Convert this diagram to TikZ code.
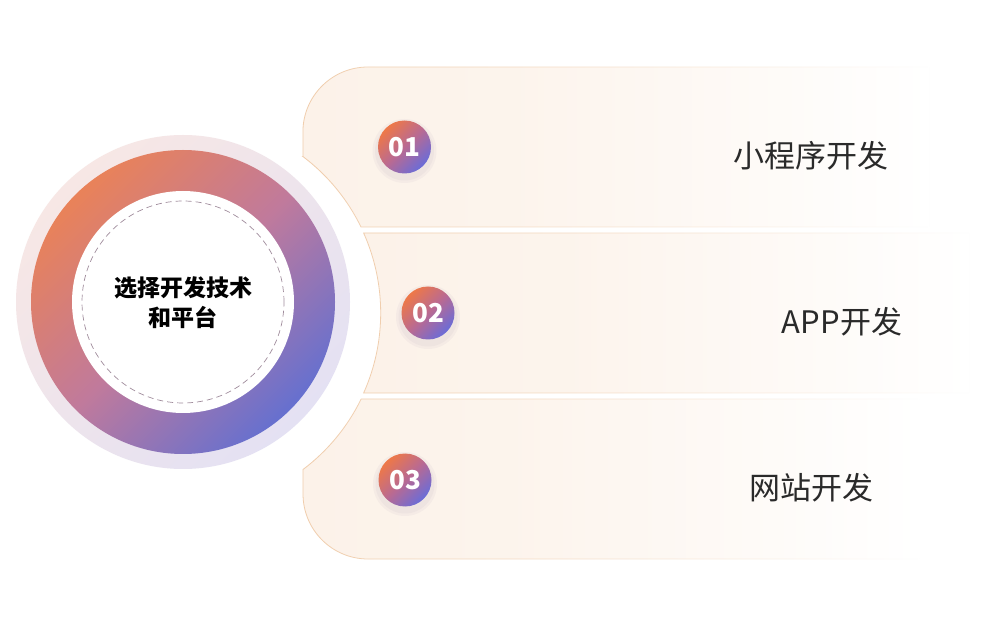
\documentclass[tikz,border=0pt]{standalone}
\usepackage{fontspec}
\setmainfont{Noto Sans CJK SC}
\usetikzlibrary{fadings}
\definecolor{peach}{RGB}{252,242,233}
\definecolor{peachline}{RGB}{240,205,172}
\definecolor{gOr}{HTML}{E98259}
\definecolor{gMid}{HTML}{C07A9C}
\definecolor{gBl}{HTML}{6670CF}
\definecolor{bOr}{HTML}{EE7848}
\definecolor{bMid}{HTML}{B96A92}
\definecolor{bBl}{HTML}{6A6CD8}
\definecolor{paleA}{HTML}{F7E7E5}
\definecolor{paleB}{HTML}{E4E1F3}
\definecolor{dashc}{HTML}{A08C9C}
\definecolor{txt}{HTML}{2A2A2A}
\definecolor{shadowc}{HTML}{8A7A9A}
\pgfdeclarehorizontalshading{cardfade}{100bp}{color(0bp)=(peach); color(25bp)=(peach); color(42bp)=(peach!85!white); color(60bp)=(peach!40!white); color(75bp)=(white); color(100bp)=(white)}
\tikzfading[name=borderfade, left color=transparent!0, middle color=transparent!30, right color=transparent!100]
\tikzset{
  cardfill/.style={shading=cardfade},
  cardline/.style={draw=peachline, line width=0.8pt, path fading=borderfade},
  badge/.style={circle, minimum size=53pt, inner sep=0pt, top color=bOr, bottom color=bBl, middle color=bMid, shading angle=45, text=white, font=\bfseries\fontsize{26}{26}\selectfont, text height=19pt, text depth=0pt},
  badgeshadow/.style={fill=shadowc, opacity=0.06},
  itemtext/.style={text=txt, font=\fontsize{31}{31}\selectfont, inner sep=0pt, text height=25pt, text depth=2.5pt}
}
\begin{document}
\begin{tikzpicture}[x=1pt,y=1pt]
\useasboundingbox (0,0) rectangle (996,627);
\fill[white] (0,0) rectangle (996,627);

% card 1
\shade[cardfill] (303,470.5) -- (303,495) arc[start angle=180,end angle=90,radius=65] -- (930,560) -- (930,400) -- (361.1,400) arc[start angle=26.03,end angle=52.99,radius=196] -- cycle;
\draw[cardline] (303,470.5) -- (303,495) arc[start angle=180,end angle=90,radius=65] -- (930,560) -- (930,400) -- (361.1,400) arc[start angle=26.03,end angle=52.99,radius=196] -- cycle;
% card 2
\shade[cardfill] (363.9,394) -- (970,394) -- (970,234) -- (363.9,234) arc[start angle=-24.09,end angle=24.09,radius=196] -- cycle;
\draw[cardline] (363.9,394) -- (970,394) -- (970,234) -- (363.9,234) arc[start angle=-24.09,end angle=24.09,radius=196] -- cycle;
% card 3
\shade[cardfill] (361.1,228) -- (920,228) -- (920,68) -- (368,68) arc[start angle=270,end angle=180,radius=65] -- (303,157.5) arc[start angle=-52.99,end angle=-26.03,radius=196] -- cycle;
\draw[cardline] (361.1,228) -- (920,228) -- (920,68) -- (368,68) arc[start angle=270,end angle=180,radius=65] -- (303,157.5) arc[start angle=-52.99,end angle=-26.03,radius=196] -- cycle;

% central circle
\node[circle, minimum size=334pt, inner sep=0pt, top color=paleA, bottom color=paleB, shading angle=45] (halo) at (183,325) {};
\node[circle, minimum size=304pt, inner sep=0pt, top color=gOr, bottom color=gBl, middle color=gMid, shading angle=45] (ring) at (183,325) {};
\node[circle, minimum size=222pt, inner sep=0pt, fill=white] (core) at (183,325) {};
\node[circle, minimum size=202pt, inner sep=0pt, draw=dashc, dash pattern=on 6pt off 4pt, line width=0.7pt] (dashring) at (183,325) {};
\node[font=\bfseries\fontsize{23}{30}\selectfont, align=center, text=black] (title) at (183,324) {选择开发技术\\和平台};

% badge shadows
\foreach \bx/\by in {404.5/480, 428/314, 405/147}{
  \fill[badgeshadow] (\bx,\by-4) circle (32);
  \fill[badgeshadow] (\bx,\by-4) circle (29.5);
}
% badges
\node[badge] (b1) at (404.5,480) {01};
\node[badge] (b2) at (428,314) {02};
\node[badge] (b3) at (405,147) {03};

% labels
\node[itemtext] (t1) at (811,471) {小程序开发};
\node[itemtext] (t2) at (842,305) {APP开发};
\node[itemtext] (t3) at (811,139) {网站开发};
\end{tikzpicture}
\end{document}
